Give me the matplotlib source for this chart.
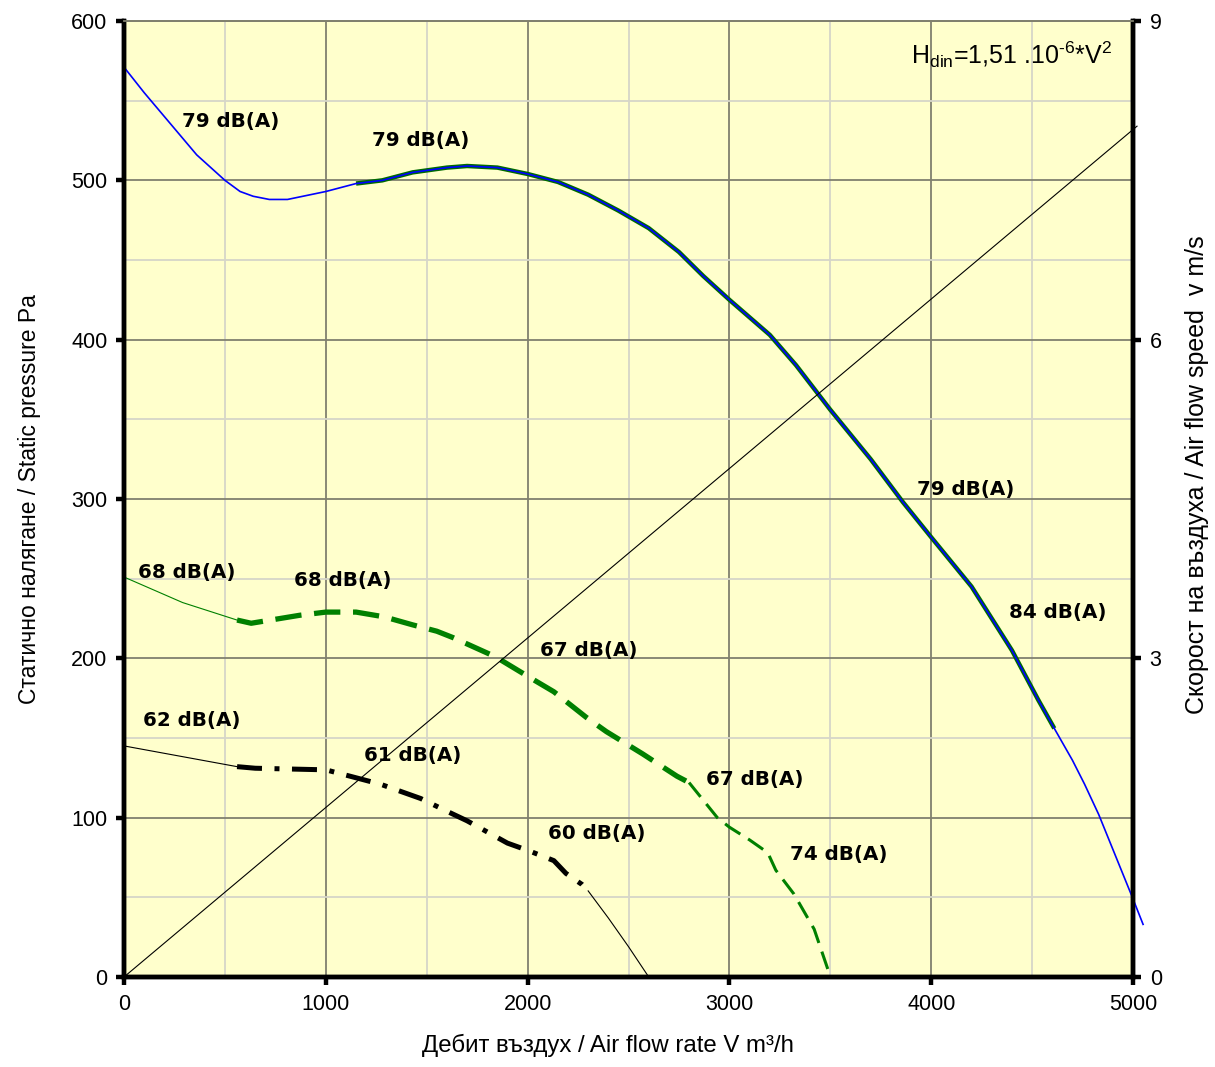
import matplotlib.pyplot as plt
import numpy as np
from matplotlib.ticker import MultipleLocator

plt.rcParams['font.family'] = ['Liberation Sans', 'DejaVu Sans']
plt.rcParams['mathtext.fontset'] = 'custom'
plt.rcParams['mathtext.rm'] = 'Liberation Sans'
plt.rcParams['mathtext.it'] = 'Liberation Sans:italic'

# 79 dB(A) curve, full speed (flow m3/h, static pressure Pa)
flow_79 = [0, 100, 200, 360, 500, 575, 640, 720, 810, 1000, 1150, 1280, 1430,
           1600, 1700, 1850, 2000, 2150, 2300, 2450, 2600, 2750, 2870, 3000,
           3100, 3200, 3330, 3500, 3700, 3860, 4000, 4200, 4300, 4400, 4530,
           4610, 4700, 4760, 4830, 5000, 5050]
pres_79 = [571, 555, 540, 516, 500, 493, 490, 488, 488, 493, 498, 500, 505,
           508, 509, 508, 504, 499, 491, 481, 470, 455, 440, 425,
           414, 403, 384, 356, 325, 298, 276, 245, 225, 205, 174,
           156, 136, 121, 102, 49, 33]
work_79 = (1150, 4610)

# 68/67/74 dB(A) curve, medium speed
flow_68_thin = [0, 290, 560]
pres_68_thin = [251, 235, 224]
flow_68 = [560, 630, 870, 1000, 1150, 1290, 1430, 1550, 1630, 1840, 2010,
           2130, 2290, 2390, 2570, 2740, 2800]
pres_68 = [224, 222, 227, 229, 229, 226, 221, 217, 213, 201, 188,
           179, 163, 154, 140, 126, 122]
flow_74 = [2800, 2870, 2940, 3000, 3100, 3190, 3230, 3320, 3420, 3490, 3500]
pres_74 = [122, 111, 100, 94, 86, 78, 67, 52, 30, 4, 0]

# 62/61/60 dB(A) curve, low speed
flow_62_thin = [0, 560]
pres_62_thin = [145, 132]
flow_62 = [560, 650, 1000, 1150, 1270, 1470, 1600, 1700, 1800, 1900, 2010,
           2130, 2190, 2270, 2300]
pres_62 = [132, 131, 130, 125, 121, 112, 104, 98, 91, 84, 79,
           73, 65, 58, 54]
flow_62_tail = [2300, 2400, 2500, 2600]
pres_62_tail = [54, 37, 19, 0]

# air speed line (right axis, m/s)
flow_speed = [0, 5020]
speed = [0, 8.01]

labels = ["79 dB(A)", "79 dB(A)", "79 dB(A)", "84 dB(A)", "68 dB(A)", "68 dB(A)",
          "67 dB(A)", "62 dB(A)", "61 dB(A)", "67 dB(A)", "60 dB(A)", "74 dB(A)"]
label_x = [530, 1472, 4172, 4628, 312, 1085, 2304, 337, 1432, 3127, 2344, 3543]
label_y = [537, 525, 306, 229, 254, 249, 205, 161, 139, 124, 90, 77]

fig = plt.figure(figsize=(12.15, 10.67), dpi=100)
ax = fig.add_axes([0.1021, 0.0844, 0.8304, 0.8959])
ax.set_facecolor('#FFFFCC')

ax.set_xlim(0, 5000)
ax.set_ylim(0, 600)
ax.xaxis.set_major_locator(MultipleLocator(1000))
ax.xaxis.set_minor_locator(MultipleLocator(500))
ax.yaxis.set_major_locator(MultipleLocator(100))
ax.yaxis.set_minor_locator(MultipleLocator(50))
ax.grid(which='minor', color='#d6d6c8', linewidth=1.3, zorder=0)
ax.grid(which='major', color='#80806e', linewidth=1.3, zorder=0)
ax.set_axisbelow(True)

# 79 dB curve
fx = np.array(flow_79)
fy = np.array(pres_79)
m = (fx >= work_79[0]) & (fx <= work_79[1])
ax.plot(fx[m], fy[m], color='#006a00', linewidth=3.2, solid_capstyle='butt', zorder=3)
ax.plot(fx, fy, color='#0000ff', linewidth=1.2, zorder=4, clip_on=False)

# medium
ax.plot(flow_68_thin, pres_68_thin, color='#008000', linewidth=0.8, zorder=3)
ax.plot(flow_68, pres_68, color='#008000', linewidth=3.8, dashes=(5, 2.4), zorder=3)
ax.plot(flow_74, pres_74, color='#008000', linewidth=2.2, dashes=(6, 3), zorder=3)

# low
ax.plot(flow_62_thin, pres_62_thin, color='black', linewidth=0.8, zorder=3)
ax.plot(flow_62, pres_62, color='black', linewidth=3.6, dashes=(5, 2.5, 1, 2.5), zorder=3)
ax.plot(flow_62_tail, pres_62_tail, color='black', linewidth=0.8, zorder=3, clip_on=False)

for t, x, y in zip(labels, label_x, label_y):
    ax.text(x, y, t, ha='center', va='center', fontsize=14.3, fontweight='bold',
            family='DejaVu Sans', zorder=5)

ax.text(4900, 579, "H$_{\\rm din}$=1,51 .10$^{\u2010 6}$*V$^{2}$", ha='right', va='center',
        fontsize=18, zorder=5)

ax2 = ax.twinx()
ax2.set_ylim(0, 9)
ax2.set_yticks([0, 3, 6, 9])
ax2.plot(flow_speed, speed, color='black', linewidth=0.8, clip_on=False)

for a in (ax, ax2):
    for s in ('left', 'bottom', 'right'):
        a.spines[s].set_linewidth(3.2)
        a.spines[s].set_color('black')
    a.spines['top'].set_color('#80806e')
    a.spines['top'].set_linewidth(1.3)

ax.tick_params(which='major', direction='out', length=6, width=3.2, labelsize=15.5, pad=6)
ax.tick_params(which='minor', length=0)
ax2.tick_params(which='major', direction='out', length=6, width=3.2, labelsize=15.5, pad=6)

ax.set_xlabel("Дебит въздух / Air flow rate V m³/h", fontsize=17.3)
ax.xaxis.set_label_coords(0.48, -0.06)
ax.set_ylabel("Статично налягане / Static pressure Pa", fontsize=16.5, labelpad=22)
ax2.set_ylabel("Скорост на въздуха / Air flow speed  v m/s", fontsize=18)
ax2.yaxis.set_label_coords(1.0515, 0.525)

fig.savefig('out.png', dpi=100)
